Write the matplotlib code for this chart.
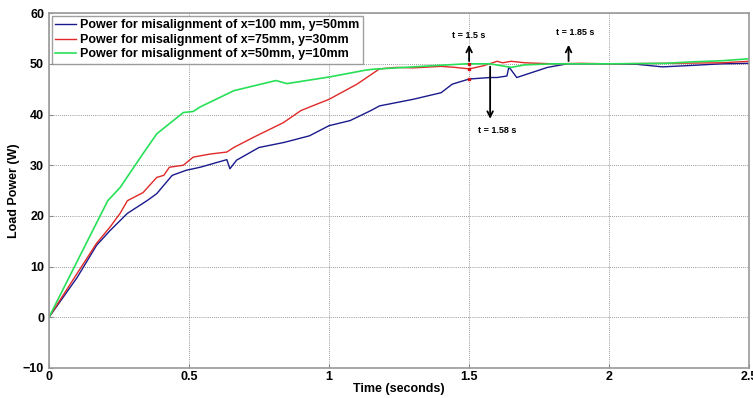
import matplotlib.pyplot as plt

plt.rcParams["font.family"] = ["Liberation Sans", "DejaVu Sans"]

# Données
t_blue = [0, 0.1, 0.17, 0.218, 0.28, 0.35, 0.385, 0.44, 0.49, 0.54, 0.635, 0.646, 0.67,
          0.75, 0.84, 0.93, 1.0, 1.075, 1.15, 1.18, 1.30, 1.40, 1.44, 1.5, 1.575, 1.6,
          1.635, 1.642, 1.67, 1.78, 1.85, 1.9, 2.0, 2.1, 2.19, 2.3, 2.4, 2.5]
p_blue = [0, 7.8, 14.2, 17.1, 20.5, 23, 24.4, 28, 29, 29.6, 31.1, 29.3, 31,
          33.5, 34.5, 35.8, 37.8, 38.8, 40.8, 41.7, 43, 44.3, 46, 47, 47.3, 47.3,
          47.6, 49.4, 47.3, 49.3, 50, 50, 50, 49.9, 49.4, 49.7, 50, 50.1]

t_red = [0, 0.1, 0.17, 0.218, 0.254, 0.28, 0.336, 0.385, 0.41, 0.43, 0.48, 0.515, 0.575,
         0.635, 0.66, 0.73, 0.837, 0.9, 1.0, 1.1, 1.18, 1.24, 1.3, 1.4, 1.45, 1.5, 1.55,
         1.6, 1.62, 1.65, 1.7, 1.8, 1.9, 2.0, 2.2, 2.4, 2.5]
p_red = [0, 8.6, 14.6, 17.8, 20.5, 23, 24.6, 27.6, 28, 29.6, 30, 31.6, 32.2,
         32.6, 33.5, 35.5, 38.4, 40.8, 43, 46, 49, 49.3, 49.2, 49.5, 49.3, 49, 49.6,
         50.5, 50.2, 50.5, 50.2, 50, 50.1, 50, 50.1, 50.2, 50.5]

t_green = [0, 0.21, 0.254, 0.336, 0.385, 0.48, 0.515, 0.54, 0.66, 0.81, 0.85, 1.0,
           1.135, 1.17, 1.18, 1.36, 1.49, 1.575, 1.65, 1.7, 1.8, 2.0, 2.2, 2.3, 2.4, 2.5]
p_green = [0, 23, 25.6, 32.3, 36.2, 40.4, 40.6, 41.5, 44.7, 46.7, 46.1, 47.4,
           48.8, 49.0, 49.0, 49.6, 50, 50, 49.3, 49.8, 50, 50, 50.1, 50.4, 50.6, 51]

labels = ["Power for misalignment of x=100 mm, y=50mm",
          "Power for misalignment of x=75mm, y=30mm",
          "Power for misalignment of x=50mm, y=10mm"]

# Points marqués à t = 1.5 s
t_mark = [1.5, 1.5, 1.5]
p_mark = [50, 49, 47]

fig = plt.figure(figsize=(7.53, 3.98), dpi=100)
ax = fig.add_axes([0.065, 0.0754, 0.93, 0.8916])

ax.plot(t_blue, p_blue, color="#1a1a8c", lw=1, label=labels[0])
ax.plot(t_red, p_red, color="#e02828", lw=1, label=labels[1])
ax.plot(t_green, p_green, color="#28e058", lw=1.2, label=labels[2])
ax.plot(t_mark, p_mark, "s", color="#d01010", ms=2)

ax.set_xlim(0, 2.5)
ax.set_ylim(-10, 60)
ax.set_xticks([0, 0.5, 1, 1.5, 2, 2.5])
ax.set_xticklabels(["0", "0.5", "1", "1.5", "2", "2.5"])
ax.set_yticks(range(-10, 61, 10))
ax.grid(True, linestyle=(0, (1, 1.5)), color="#777777", lw=0.6)
ax.tick_params(direction="in", labelsize=9, color="#888888", length=3)
ax.tick_params(axis="x", pad=2)
for lab in ax.get_xticklabels() + ax.get_yticklabels():
    lab.set_fontweight("bold")
for s in ax.spines.values():
    s.set_color("#999999")
    s.set_linewidth(1.2)

ax.set_xlabel("Time (seconds)", fontsize=9, fontweight="bold", labelpad=0)
ax.set_ylabel("Load Power (W)", fontsize=9, fontweight="bold", labelpad=2)

leg = ax.legend(loc="upper left", prop={"weight": "bold", "size": 9}, frameon=True,
                fancybox=False, borderpad=0.25, labelspacing=0.2, handlelength=1.7,
                handletextpad=0.3, borderaxespad=0.25)
leg.get_frame().set_edgecolor("#888888")
leg.get_frame().set_linewidth(1)

# Flèches et annotations
arr = dict(arrowstyle="->", color="black", lw=1.3)
ax.annotate("", xy=(1.5, 54.3), xytext=(1.5, 50), arrowprops=arr)
ax.text(1.5, 55.6, "t = 1.5 s", fontsize=6.5, fontweight="bold", ha="center", va="center")
ax.annotate("", xy=(1.575, 38.6), xytext=(1.575, 50), arrowprops=arr)
ax.text(1.6, 36.8, "t = 1.58 s", fontsize=6.5, fontweight="bold", ha="center", va="center")
ax.annotate("", xy=(1.855, 54.3), xytext=(1.855, 50), arrowprops=arr)
ax.text(1.88, 56.2, "t = 1.85 s", fontsize=6.5, fontweight="bold", ha="center", va="center")

fig.savefig("out.png", dpi=100)
